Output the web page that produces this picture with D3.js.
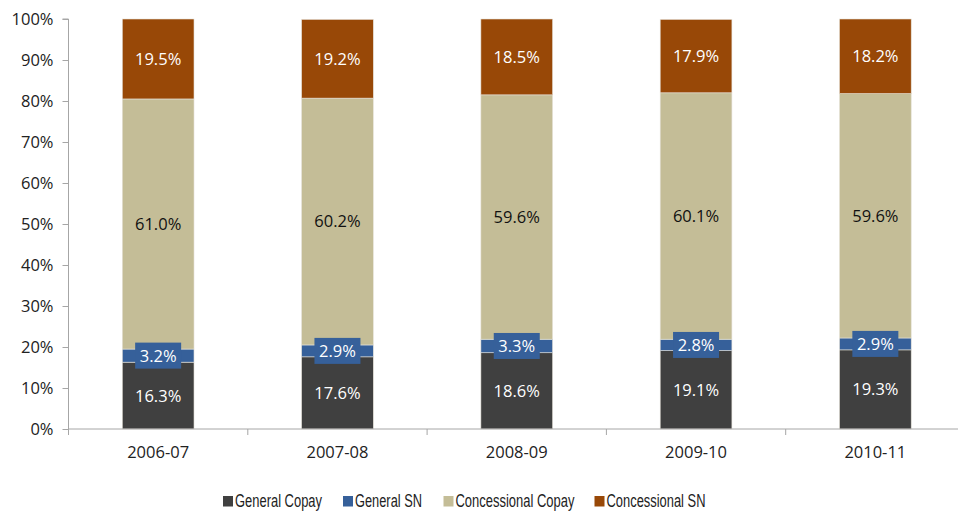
<!DOCTYPE html>
<html><head><meta charset="utf-8">
<script src="https://cdn.jsdelivr.net/npm/d3@7"></script>
<style>body{margin:0;background:#fff;} svg{display:block;}</style>
</head><body>
<svg id="c" width="958" height="516"></svg>
<script>
const categories = ["2006-07","2007-08","2008-09","2009-10","2010-11"];
const seriesNames = ["General Copay","General SN","Concessional Copay","Concessional SN"];
const generalCopay = [16.3,17.6,18.6,19.1,19.3];
const generalSN = [3.2,2.9,3.3,2.8,2.9];
const concessionalCopay = [61.0,60.2,59.6,60.1,59.6];
const concessionalSN = [19.5,19.2,18.5,17.9,18.2];
const yTicks = [0,10,20,30,40,50,60,70,80,90,100];

(function(){
const colors = ["#404040","#36609a","#c4bd97","#984807"];
const textColors = ["#fff","#fff","#111","#fff"];

const rows = categories.map((c,i)=>({cat:c,
  "General Copay":generalCopay[i],"General SN":generalSN[i],
  "Concessional Copay":concessionalCopay[i],"Concessional SN":concessionalSN[i]}));
const stack = d3.stack().keys(seriesNames)(rows);

const svg = d3.select("#c");
const pLeft=68.5, pRight=965, pTop=19, pBottom=429;
const x = d3.scaleBand().domain(categories).range([pLeft,pRight]).paddingInner(0.6).paddingOuter(0.3);
const y = d3.scaleLinear().domain([0,100]).range([pBottom,pTop]);
const font = "'Open Sans', 'Noto Sans', sans-serif";
const fs = 16.5;

// y axis
const ya = svg.append("g").attr("transform",`translate(${pLeft},0)`)
  .call(d3.axisLeft(y).tickValues(yTicks).tickFormat(d=>d+"%").tickSize(6).tickPadding(9));
ya.select(".domain").attr("stroke","#a6a6a6").attr("d",`M-6,${pTop}H0V${pBottom}`);
ya.selectAll(".tick line").attr("stroke","#a6a6a6");
ya.selectAll("text").attr("font-family",font).attr("font-size",fs).attr("fill","#222");

// bars
const g = svg.append("g");
stack.forEach((s,k)=>{
  g.selectAll(null).data(s).enter().append("rect")
    .attr("x",d=>x(d.data.cat)).attr("width",x.bandwidth())
    .attr("y",d=>y(Math.min(d[1],100))).attr("height",d=>y(d[0])-y(Math.min(d[1],100)))
    .attr("fill",colors[k]).attr("stroke","#e6e3da").attr("stroke-width",0.6);
});

// x axis
const xa = svg.append("g").attr("transform",`translate(0,${pBottom})`);
xa.append("line").attr("x1",pLeft).attr("x2",pRight).attr("stroke","#a6a6a6");
const step = x.step();
for(let i=0;i<=categories.length;i++){
  const tx = pLeft + i*step;
  xa.append("line").attr("x1",tx).attr("x2",tx).attr("y1",0).attr("y2",6).attr("stroke","#a6a6a6");
}
xa.selectAll(null).data(categories).enter().append("text")
  .attr("x",d=>x(d)+x.bandwidth()/2).attr("y",29).attr("text-anchor","middle")
  .attr("font-family",font).attr("font-size",fs).attr("fill","#222").text(d=>d);

// labels
stack.forEach((s,k)=>{
  s.forEach(d=>{
    const cx = x(d.data.cat)+x.bandwidth()/2;
    const cy = (y(d[0])+y(Math.min(d[1],100)))/2;
    const val = d.data[seriesNames[k]];
    if(k===1){
      g.append("rect").attr("x",cx-23).attr("y",cy-13).attr("width",46).attr("height",26).attr("fill",colors[k]);
    }
    g.append("text").attr("x",cx).attr("y",cy).attr("dy","0.36em").attr("text-anchor","middle")
      .attr("font-family",font).attr("font-size",fs).attr("fill",textColors[k]).text(val.toFixed(1)+"%");
  });
});

// legend
const legX = [223,343,443.5,594.5];
const legW = [87,67,119,99];
const lg = svg.append("g");
seriesNames.forEach((n,i)=>{
  lg.append("rect").attr("x",legX[i]).attr("y",496).attr("width",10).attr("height",10.5).attr("fill",colors[i]);
  lg.append("text").attr("x",legX[i]+12).attr("y",507)
    .attr("textLength",legW[i]).attr("lengthAdjust","spacingAndGlyphs")
    .attr("font-family","'Liberation Sans', Arial, sans-serif").attr("font-size",17.5).attr("fill","#222").text(n);
});
})();
</script>
</body></html>
